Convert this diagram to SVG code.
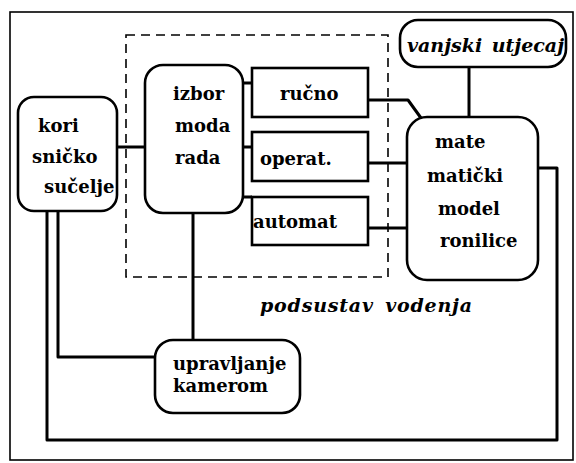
<svg xmlns="http://www.w3.org/2000/svg" width="576" height="463" viewBox="0 0 576 463">
<style>
.box{fill:#fff;stroke:#000;stroke-width:2.6}
.t{font-family:"DejaVu Serif",serif;font-weight:bold;font-size:18px;fill:#000}
.it{font-family:"DejaVu Serif",serif;font-weight:bold;font-style:italic;font-size:19px;fill:#000}
.c{fill:none;stroke:#000;stroke-width:3;stroke-linejoin:round}
</style>
<rect width="576" height="463" fill="#fff"/>
<rect x="10" y="12" width="563" height="448" fill="none" stroke="#000" stroke-width="1.6"/>
<rect id="podsustav" x="126" y="35" width="262" height="242" fill="none" stroke="#000" stroke-width="1.6" stroke-dasharray="9,6"/>
<text class="it" x="260" y="312" letter-spacing="0.8" word-spacing="4">podsustav vodenja</text>
<g id="connectors">
<path class="c" d="M117,147 H145"/>
<path class="c" d="M243,83 H252"/>
<path class="c" d="M243,147 H252"/>
<path class="c" d="M243,197 H252"/>
<path class="c" d="M368,100 H408 L421,118"/>
<path class="c" d="M368,163 H407"/>
<path class="c" d="M368,228 H407"/>
<path class="c" d="M469,67 V117"/>
<path class="c" d="M538,168 H557 V440 H47 V211"/>
<path class="c" d="M58,211 V357 H155"/>
<path class="c" d="M193,213 V340"/>
</g>
<g id="kori">
<rect class="box" x="18" y="97" width="99" height="114" rx="16"/>
<text class="t" x="38" y="132">kori</text>
<text class="t" x="32" y="163">sničko</text>
<text class="t" x="44" y="193">sučelje</text>
</g>
<g id="izbor">
<rect class="box" x="145" y="65" width="98" height="148" rx="18"/>
<text class="t" x="173" y="100">izbor</text>
<text class="t" x="175" y="132">moda</text>
<text class="t" x="175" y="164">rada</text>
</g>
<g id="rucno">
<rect class="box" x="252" y="68" width="116" height="49"/>
<text class="t" x="280" y="100">ručno</text>
</g>
<g id="operat">
<rect class="box" x="252" y="132" width="116" height="49"/>
<text class="t" x="260" y="165">operat.</text>
</g>
<g id="automat">
<rect class="box" x="252" y="197" width="116" height="48"/>
<text class="t" x="253" y="228">automat</text>
</g>
<g id="vanjski">
<rect class="box" x="400" y="20" width="166" height="47" rx="18"/>
<text class="it" x="407" y="52" word-spacing="3">vanjski utjecaj</text>
</g>
<g id="mate">
<rect class="box" x="407" y="117" width="131" height="163" rx="20"/>
<text class="t" x="435" y="148">mate</text>
<text class="t" x="427" y="182">matički</text>
<text class="t" x="438" y="215">model</text>
<text class="t" x="440" y="247">ronilice</text>
</g>
<g id="upravljanje">
<rect class="box" x="155" y="340" width="145" height="73" rx="18"/>
<text class="t" x="173" y="370">upravljanje</text>
<text class="t" x="173" y="392">kamerom</text>
</g>
</svg>
